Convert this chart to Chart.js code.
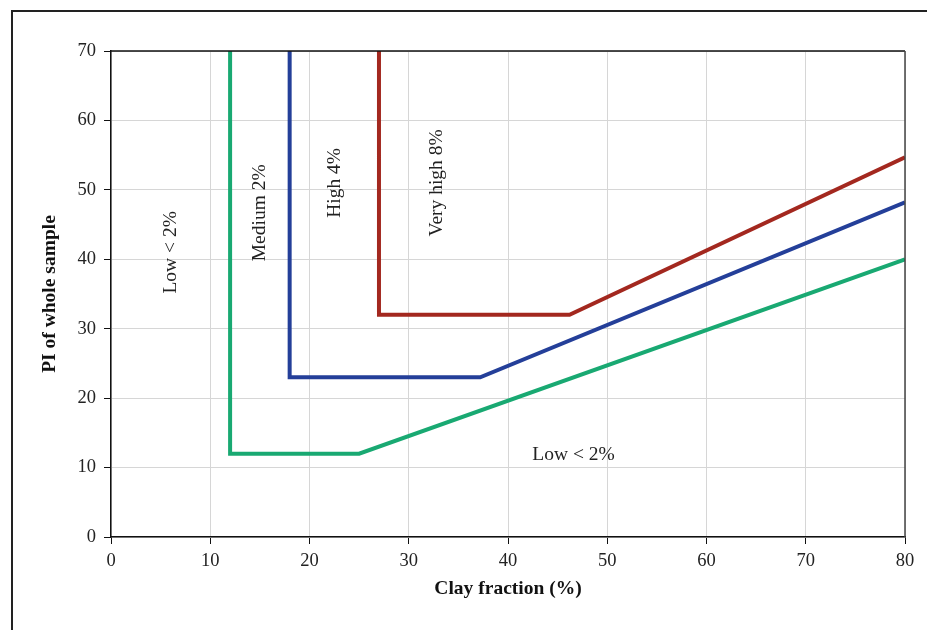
<!DOCTYPE html>
<html>
<head>
<meta charset="utf-8">
<script src="https://cdn.jsdelivr.net/npm/chart.js@4/dist/chart.umd.min.js"></script>
<style>
  body { margin: 0; background: #fff; }
  #wrap { position: relative; width: 927px; height: 630px; }
  #chart { position: absolute; left: 0; top: 0; }
  #frame { position: absolute; left: 11px; top: 10px; width: 930px; height: 640px;
           border-left: 2px solid #222; border-top: 2px solid #222; }
</style>
</head>
<body>
<div id="wrap">
  <canvas id="chart" width="927" height="630"></canvas>
  <div id="frame"></div>
</div>
<script>
// boundary lines (clay fraction %, PI)
const lowX = [12, 12, 25, 80];
const lowY = [70, 12, 12, 40];
const medX = [18, 18, 37.2, 80];
const medY = [70, 23, 23, 48.2];
const highX = [27, 27, 46.2, 80];
const highY = [70, 32, 32, 54.7];

const xTicks = [0, 10, 20, 30, 40, 50, 60, 70, 80];
const yTicks = [0, 10, 20, 30, 40, 50, 60, 70];

// zone labels: text, x, y, rotated?
const zoneText = ['Low < 2%', 'Medium 2%', 'High 4%', 'Very high 8%', 'Low < 2%'];
const zoneX = [6, 15, 22.6, 32.8, 46.6];
const zoneY = [41, 46.7, 51, 51, 11.8];
const zoneRot = [true, true, true, true, false];

const FONT = "'Liberation Serif', 'DejaVu Serif', serif";

const pts = (xs, ys) => xs.map((x, i) => ({ x: x, y: ys[i] }));

const zoneLabels = {
  id: 'zoneLabels',
  afterDatasetsDraw(c) {
    const ctx = c.ctx;
    const xs = c.scales.x, ys = c.scales.y;
    ctx.save();
    ctx.fillStyle = '#222';
    ctx.font = '19.5px ' + FONT;
    ctx.textAlign = 'center';
    ctx.textBaseline = 'middle';
    zoneText.forEach((t, i) => {
      const px = xs.getPixelForValue(zoneX[i]);
      const py = ys.getPixelForValue(zoneY[i]);
      ctx.save();
      ctx.translate(px, py);
      if (zoneRot[i]) ctx.rotate(-Math.PI / 2);
      ctx.fillText(t, 0, 0);
      ctx.restore();
    });
    // top and right edges of the plot box
    const a = c.chartArea;
    ctx.strokeStyle = '#111';
    ctx.lineWidth = 1.5;
    ctx.beginPath();
    ctx.moveTo(a.left, a.top);
    ctx.lineTo(a.right, a.top);
    ctx.stroke();
    ctx.strokeStyle = '#444';
    ctx.beginPath();
    ctx.moveTo(a.right, a.top);
    ctx.lineTo(a.right, a.bottom);
    ctx.stroke();
    ctx.restore();
  }
};

new Chart(document.querySelector('#chart').getContext('2d'), {
  type: 'scatter',
  data: {
    datasets: [
      { label: 'Low', data: pts(lowX, lowY), borderColor: '#19a972' },
      { label: 'Medium', data: pts(medX, medY), borderColor: '#243f99' },
      { label: 'High', data: pts(highX, highY), borderColor: '#a3281f' }
    ].map(d => Object.assign(d, {
      showLine: true, borderWidth: 4, pointRadius: 0, tension: 0,
      borderJoinStyle: 'miter', borderCapStyle: 'butt'
    }))
  },
  options: {
    responsive: false,
    animation: false,
    layout: { padding: { left: 20, top: 51, right: 22, bottom: 23 } },
    plugins: { legend: { display: false }, tooltip: { enabled: false } },
    scales: {
      x: {
        type: 'linear', min: 0, max: 80,
        afterBuildTicks: s => { s.ticks = xTicks.map(v => ({ value: v })); },
        afterFit: s => { s.height = 70; },
        grid: { color: '#d6d6d6', lineWidth: 1, tickColor: '#111', tickLength: 7 },
        border: { color: '#111', width: 1.5 },
        ticks: { color: '#222', font: { family: FONT, size: 18.5 }, padding: 6, maxRotation: 0 },
        title: { display: true, text: 'Clay fraction (%)', color: '#111',
                 font: { family: FONT, size: 19.5, weight: 'bold' }, padding: { top: 0, bottom: 6 } }
      },
      y: {
        type: 'linear', min: 0, max: 70,
        afterBuildTicks: s => { s.ticks = yTicks.map(v => ({ value: v })); },
        afterFit: s => { s.width = 91; },
        grid: { color: '#d6d6d6', lineWidth: 1, tickColor: '#111', tickLength: 7 },
        border: { color: '#111', width: 1.5 },
        ticks: { color: '#222', font: { family: FONT, size: 18.5 }, padding: 8 },
        title: { display: true, text: 'PI of whole sample', color: '#111',
                 font: { family: FONT, size: 19.5, weight: 'bold' }, padding: { top: 18, bottom: 0 } }
      }
    }
  },
  plugins: [zoneLabels]
});
</script>
</body>
</html>
